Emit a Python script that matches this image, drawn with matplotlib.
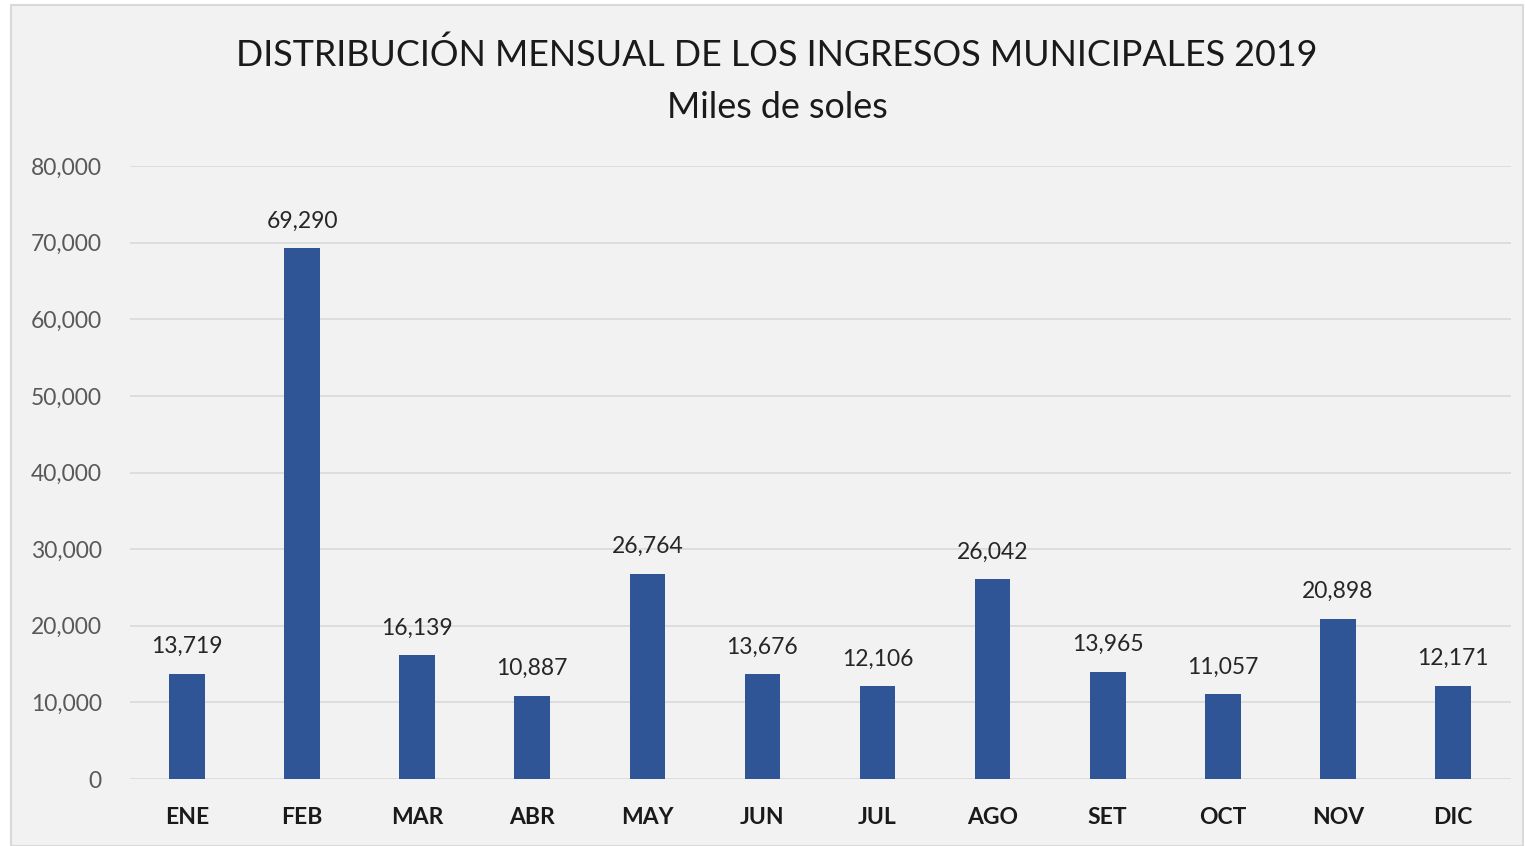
import matplotlib
matplotlib.use("Agg")
import matplotlib.pyplot as plt
from matplotlib.patches import Rectangle
from matplotlib.ticker import FuncFormatter

months = ["ENE", "FEB", "MAR", "ABR", "MAY", "JUN", "JUL", "AGO", "SET", "OCT", "NOV", "DIC"]
values = [13719, 69290, 16139, 10887, 26764, 13676, 12106, 26042, 13965, 11057, 20898, 12171]
yticks = [0, 10000, 20000, 30000, 40000, 50000, 60000, 70000, 80000]

plt.rcParams['font.family'] = ['Lato', 'DejaVu Sans']

bg = "#F2F2F2"
fig = plt.figure(figsize=(15.25, 8.46), dpi=100)
fig.patch.set_facecolor("white")
fig.patches.append(Rectangle((11/1525, 0), 1 - 11/1525 - 2/1525, 1 - 5/846, transform=fig.transFigure,
                             facecolor=bg, edgecolor="#D9D9D9", linewidth=1.5, zorder=-1))

W, H = 1525, 846
ax = fig.add_axes([129.5/W, 1 - 779/H, (1510.5-129.5)/W, (779-166)/H])
ax.set_facecolor(bg)
x = range(len(months))
bars = ax.bar(x, values, width=0.31, color="#2F5597", zorder=3)
ax.set_xlim(-0.5, len(months) - 0.5)
ax.set_ylim(0, 80000)
ax.set_yticks(yticks)
ax.yaxis.set_major_formatter(FuncFormatter(lambda v, p: f"{int(v):,}"))
ax.grid(axis="y", color="#D9D9D9", linewidth=1.2, zorder=0)
for s in ax.spines.values():
    s.set_visible(False)
ax.tick_params(axis="y", length=0, pad=20, labelsize=16.5, labelcolor="#595959")
ax.tick_params(axis="x", length=0, pad=20, labelsize=16.5)
ax.set_xticks(list(x))
ax.set_xticklabels(months, fontweight="bold", color="#1a1a1a")

for i, v in enumerate(values):
    ax.annotate(f"{v:,}", (i, v), xytext=(0, 12), textcoords="offset points",
                ha="center", va="bottom", fontsize=16.5, color="#262626")

fig.text(777/W, 1 - 55/H, "DISTRIBUCIÓN MENSUAL DE LOS INGRESOS MUNICIPALES 2019",
         ha="center", va="center", fontsize=25.8, color="#1a1a1a")
fig.text(777/W, 1 - 108/H, "Miles de soles", ha="center", va="center", fontsize=25.8, color="#1a1a1a")

fig.savefig("out.png", dpi=100, facecolor="white")
